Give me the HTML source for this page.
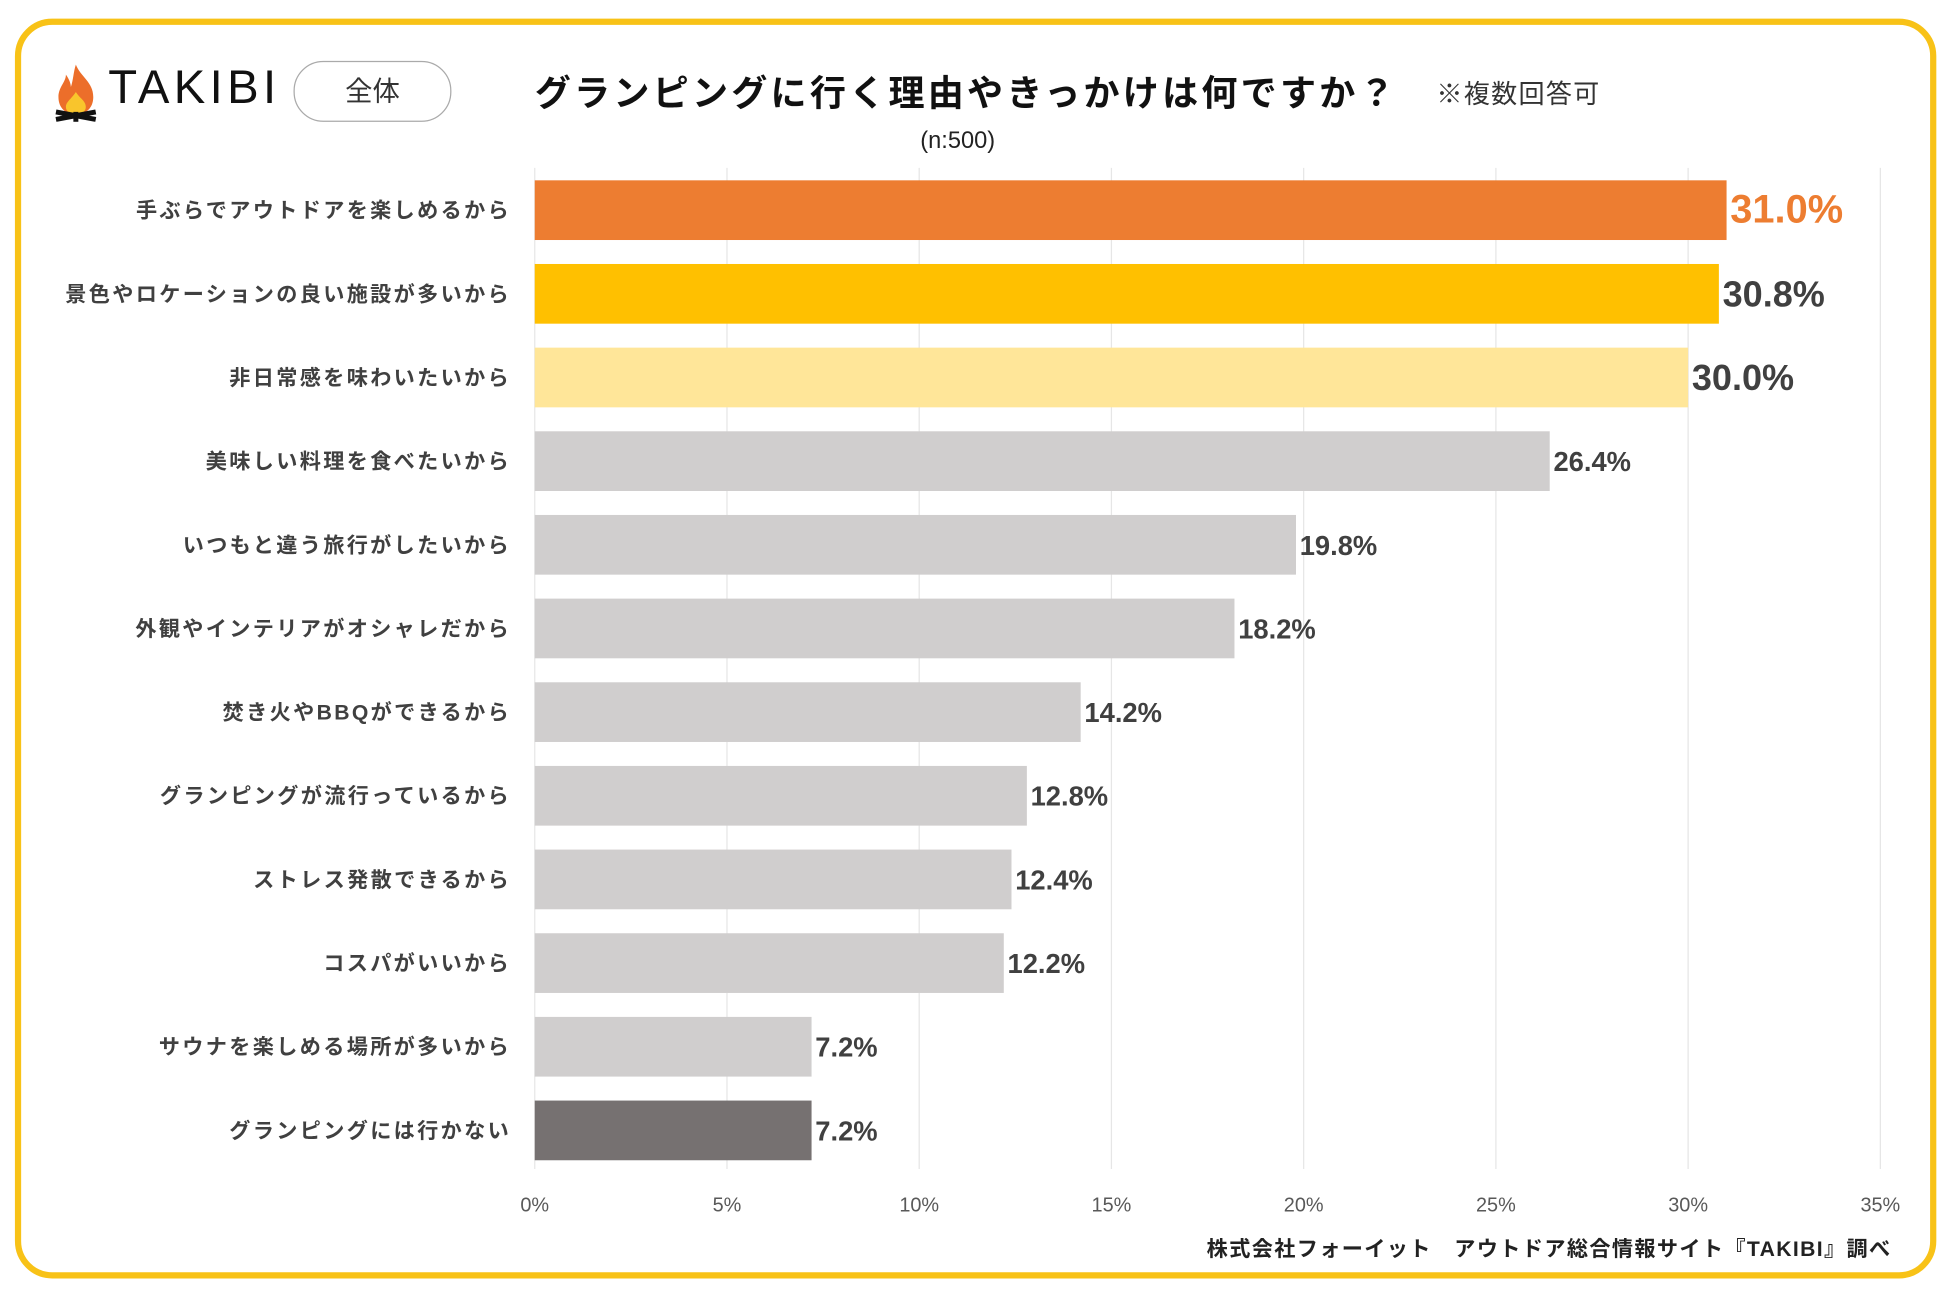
<!DOCTYPE html>
<html><head><meta charset="utf-8">
<style>
html,body{margin:0;padding:0;background:#fff;width:1950px;height:1295px;overflow:hidden}
#wrap{position:absolute;left:0;top:0;width:1568px;height:1041.3px;transform:scale(1.24362);transform-origin:0 0;font-family:"Liberation Sans","Noto Sans CJK JP",sans-serif}
.frame{position:absolute;left:12px;top:15px;width:1535px;height:1003px;border:5px solid #F8C217;border-radius:30px}
</style></head><body>
<div id="wrap">
<div class="frame"></div>
<svg style="position:absolute;left:43px;top:50px" width="36" height="48" viewBox="0 0 36 48">
<path d="M18 2 C22 12 32 16 32 28 C32 37 26 42 18 42 C10 42 4 37 4 28 C4 20 10 16 10 10 C13 14 14 18 14 20 C16 14 16 8 18 2Z" fill="#EC6E2A"/>
<path d="M18 24 C21 29 26 31 26 36 C26 40 22 42 18 42 C14 42 10 40 10 36 C10 32 14 30 18 24Z" fill="#F9C52C"/>
<path d="M2 40 L34 46 M34 40 L2 46 M18 40 L18 48" stroke="#111" stroke-width="4"/>
</svg>
<div style="position:absolute;left:87px;top:50px;font-size:38px;letter-spacing:3.5px;color:#111">TAKIBI</div>
<div style="position:absolute;left:236px;top:49px;width:125px;height:47px;border:1px solid #aaa;border-radius:24px;text-align:center;line-height:47px;font-size:22px;color:#333">全体</div>
<div style="position:absolute;left:430px;top:52px;font-size:29px;font-weight:bold;color:#111;white-space:nowrap;letter-spacing:2.6px">グランピングに行く理由やきっかけは何ですか？</div>
<div style="position:absolute;left:1155px;top:60px;font-size:21px;color:#333;white-space:nowrap;letter-spacing:1px">※複数回答可</div>
<div style="position:absolute;left:740px;top:103px;font-size:19px;color:#222">(n:500)</div>
<svg id="chart" style="position:absolute;left:0;top:0" width="1568" height="1041"></svg>
<div style="position:absolute;right:47px;top:990px;font-size:17px;font-weight:bold;color:#222;white-space:nowrap;letter-spacing:1.1px">株式会社フォーイット　アウトドア総合情報サイト『TAKIBI』調べ</div>
</div>
<script>
const categories=["手ぶらでアウトドアを楽しめるから","景色やロケーションの良い施設が多いから","非日常感を味わいたいから","美味しい料理を食べたいから","いつもと違う旅行がしたいから","外観やインテリアがオシャレだから","焚き火やBBQができるから","グランピングが流行っているから","ストレス発散できるから","コスパがいいから","サウナを楽しめる場所が多いから","グランピングには行かない"];
const values=[31.0,30.8,30.0,26.4,19.8,18.2,14.2,12.8,12.4,12.2,7.2,7.2];
const ticks=[0,5,10,15,20,25,30,35];
const colors=["#ED7D31","#FFC000","#FFE699","#D0CECE","#D0CECE","#D0CECE","#D0CECE","#D0CECE","#D0CECE","#D0CECE","#D0CECE","#767171"];
const NS="http://www.w3.org/2000/svg";
const svg=document.getElementById('chart');
const x=v=>430+v*(1512-430)/35;
const yTop=i=>145+i*67.27;
const bh=48;
function mk(t,a){const e=document.createElementNS(NS,t);for(const k in a)e.setAttribute(k,a[k]);svg.appendChild(e);return e;}
ticks.forEach(t=>{
  const g=mk('line',{x1:x(t),x2:x(t),y1:135,y2:940,stroke:'#e6e6e6','stroke-width':1});
  
  
  const l=mk('text',{x:x(t),y:974,'text-anchor':'middle','font-size':16,fill:'#595959'});
  l.textContent=t+'%';
  
  
});
categories.forEach((c,i)=>{
  const y=yTop(i);
  const r=mk('rect',{x:x(0),y:y,width:x(values[i])-x(0),height:bh,fill:colors[i]});
  
  
  const t=mk('text',{x:411,y:y+bh/2+6,'text-anchor':'end','font-size':17,'font-weight':'bold',fill:'#404040','letter-spacing':'1.9px'});
  t.textContent=c;
  
  
  const big=i<3;
  const v=mk('text',{x:x(values[i])+3,y:y+bh/2+(big?10:8),'font-size':i==0?32:(big?29:22),'font-weight':'bold',fill:i==0?'#ED7D31':'#404040'});
  v.textContent=values[i].toFixed(1)+'%';
  
  
});
</script>
</body></html>
